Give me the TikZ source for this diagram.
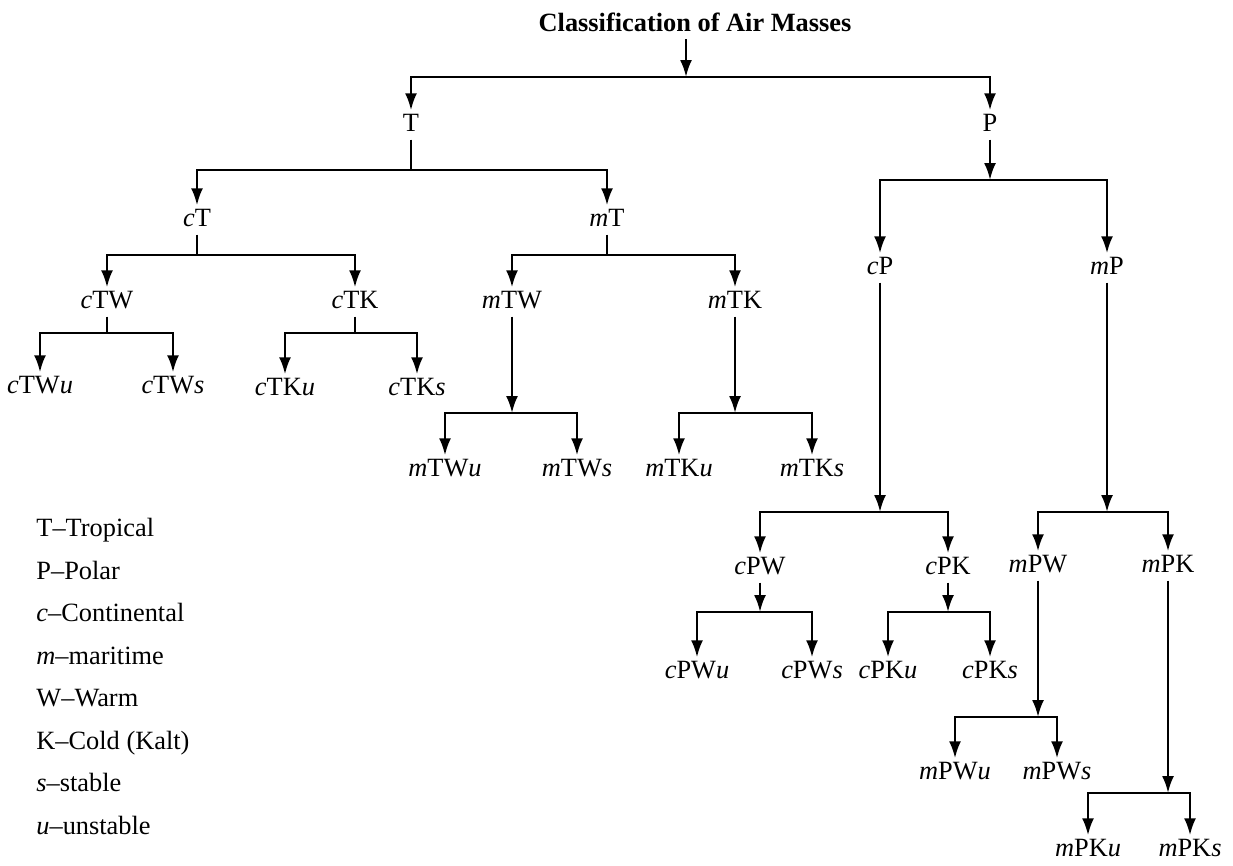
\documentclass[tikz,border=0pt]{standalone}
\usepackage{fontspec}
\setmainfont{Liberation Serif}
\usepackage{tikz}
\usetikzlibrary{
  arrows.meta,
  positioning
}
\definecolor{linecolor}{RGB}{0, 0, 0}
\definecolor{labelcolor}{RGB}{0, 0, 0}
\tikzset{
massnode/.style={
  font=\fontsize{12}{14}\selectfont,
  text=labelcolor,
  inner sep=1pt,
  text height=8.5pt,
  text depth=2.5pt
},
titlelabel/.style={
  font=\bfseries\fontsize{12}{14}\selectfont,
  text=labelcolor
},
legendlabel/.style={
  anchor=west,
  font=\fontsize{12}{14}\selectfont,
  text=labelcolor,
  inner sep=0pt,
  text height=8.5pt,
  text depth=2.5pt
},
branch/.style={
  draw=linecolor,
  line width=1.1pt
},
arrow/.style={
  branch,
  -{Latex[length=2.7mm,width=1.9mm]}
}
}

\begin{document}
\begin{tikzpicture}[x=0.16mm,y=-0.16mm]
\useasboundingbox (0,0) rectangle (1233,865);

% top
\node[titlelabel] (title) at (695,22) {Classification of Air Masses};
\coordinate (s0) at (686,77);
\draw[arrow] (title.south -| s0) -- (s0);
\node[massnode] (T) at (411,125) {T};
\node[massnode] (P) at (990,125) {P};
\draw[arrow] (s0) -| (T.north);
\draw[arrow] (s0) -| (P.north);

% tropical
\coordinate (sT) at (411,170);
\draw[branch] (T) -- (sT);
\node[massnode] (cT) at (197,220) {\textit{c}T};
\node[massnode] (mT) at (607,220) {\textit{m}T};
\draw[arrow] (sT) -| (cT.north);
\draw[arrow] (sT) -| (mT.north);

\coordinate (scT) at (197,255);
\draw[branch] (cT) -- (scT);
\node[massnode] (cTW) at (107,302) {\textit{c}TW};
\node[massnode] (cTK) at (355,302) {\textit{c}TK};
\draw[arrow] (scT) -| (cTW.north);
\draw[arrow] (scT) -| (cTK.north);

\coordinate (scTW) at (107,333);
\draw[branch] (cTW) -- (scTW);
\node[massnode] (cTWu) at (40,387) {\textit{c}TW\textit{u}};
\node[massnode] (cTWs) at (173,387) {\textit{c}TW\textit{s}};
\draw[arrow] (scTW) -| (cTWu.north);
\draw[arrow] (scTW) -| (cTWs.north);

\coordinate (scTK) at (355,333);
\draw[branch] (cTK) -- (scTK);
\node[massnode] (cTKu) at (285,389) {\textit{c}TK\textit{u}};
\node[massnode] (cTKs) at (417,389) {\textit{c}TK\textit{s}};
\draw[arrow] (scTK) -| (cTKu.north);
\draw[arrow] (scTK) -| (cTKs.north);

\coordinate (smT) at (607,255);
\draw[branch] (mT) -- (smT);
\node[massnode] (mTW) at (512,302) {\textit{m}TW};
\node[massnode] (mTK) at (735,302) {\textit{m}TK};
\draw[arrow] (smT) -| (mTW.north);
\draw[arrow] (smT) -| (mTK.north);

\coordinate (smTW) at (512,413);
\draw[arrow] (mTW) -- (smTW);
\node[massnode] (mTWu) at (445,470) {\textit{m}TW\textit{u}};
\node[massnode] (mTWs) at (577,470) {\textit{m}TW\textit{s}};
\draw[arrow] (smTW) -| (mTWu.north);
\draw[arrow] (smTW) -| (mTWs.north);

\coordinate (smTK) at (735,413);
\draw[arrow] (mTK) -- (smTK);
\node[massnode] (mTKu) at (679,470) {\textit{m}TK\textit{u}};
\node[massnode] (mTKs) at (812,470) {\textit{m}TK\textit{s}};
\draw[arrow] (smTK) -| (mTKu.north);
\draw[arrow] (smTK) -| (mTKs.north);

% polar
\coordinate (sP) at (990,180);
\draw[arrow] (P) -- (sP);
\node[massnode] (cP) at (880,268) {\textit{c}P};
\node[massnode] (mP) at (1107,268) {\textit{m}P};
\draw[arrow] (sP) -| (cP.north);
\draw[arrow] (sP) -| (mP.north);

\coordinate (scP) at (880,512);
\draw[arrow] (cP) -- (scP);
\node[massnode] (cPW) at (760,568) {\textit{c}PW};
\node[massnode] (cPK) at (948,568) {\textit{c}PK};
\draw[arrow] (scP) -| (cPW.north);
\draw[arrow] (scP) -| (cPK.north);

\coordinate (scPW) at (760,612);
\draw[arrow] (cPW) -- (scPW);
\node[massnode] (cPWu) at (697,672) {\textit{c}PW\textit{u}};
\node[massnode] (cPWs) at (812,672) {\textit{c}PW\textit{s}};
\draw[arrow] (scPW) -| (cPWu.north);
\draw[arrow] (scPW) -| (cPWs.north);

\coordinate (scPK) at (948,612);
\draw[arrow] (cPK) -- (scPK);
\node[massnode] (cPKu) at (888,672) {\textit{c}PK\textit{u}};
\node[massnode] (cPKs) at (990,672) {\textit{c}PK\textit{s}};
\draw[arrow] (scPK) -| (cPKu.north);
\draw[arrow] (scPK) -| (cPKs.north);

\coordinate (smP) at (1107,512);
\draw[arrow] (mP) -- (smP);
\node[massnode] (mPW) at (1038,566) {\textit{m}PW};
\node[massnode] (mPK) at (1168,566) {\textit{m}PK};
\draw[arrow] (smP) -| (mPW.north);
\draw[arrow] (smP) -| (mPK.north);

\coordinate (smPW) at (1038,717);
\draw[arrow] (mPW) -- (smPW);
\node[massnode] (mPWu) at (955,773) {\textit{m}PW\textit{u}};
\node[massnode] (mPWs) at (1057,773) {\textit{m}PW\textit{s}};
\draw[arrow] (smPW) -| (mPWu.north);
\draw[arrow] (smPW) -| (mPWs.north);

\coordinate (smPK) at (1168,793);
\draw[arrow] (mPK) -- (smPK);
\node[massnode] (mPKu) at (1088,850) {\textit{m}PK\textit{u}};
\node[massnode] (mPKs) at (1190,850) {\textit{m}PK\textit{s}};
\draw[arrow] (smPK) -| (mPKu.north);
\draw[arrow] (smPK) -| (mPKs.north);

% legend
\node[legendlabel] (lgT) at (36,530) {T--Tropical};
\node[legendlabel] (lgP) at (36,573) {P--Polar};
\node[legendlabel] (lgc) at (36,615) {\textit{c}--Continental};
\node[legendlabel] (lgm) at (36,658) {\textit{m}--maritime};
\node[legendlabel] (lgW) at (36,700) {W--Warm};
\node[legendlabel] (lgK) at (36,743) {K--Cold (Kalt)};
\node[legendlabel] (lgs) at (36,785) {\textit{s}--stable};
\node[legendlabel] (lgu) at (36,828) {\textit{u}--unstable};
\end{tikzpicture}
\end{document}
